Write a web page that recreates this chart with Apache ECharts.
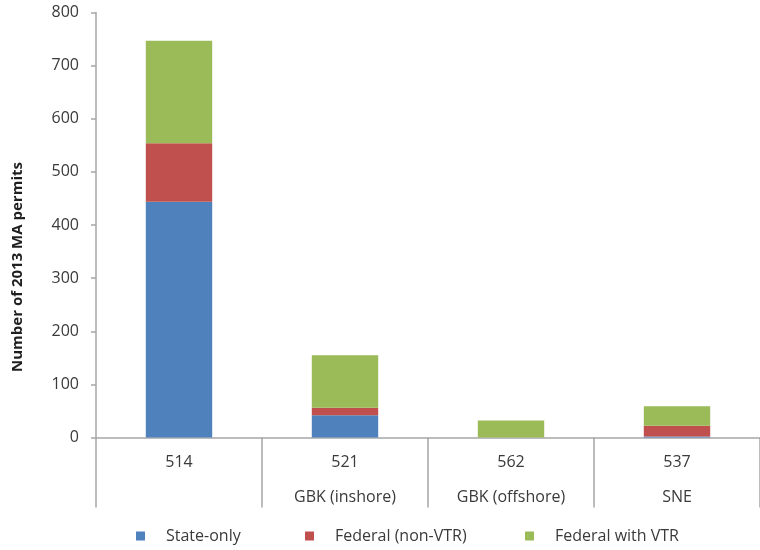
<!DOCTYPE html>
<html>
<head>
<meta charset="utf-8">
<script src="https://cdn.jsdelivr.net/npm/echarts@6/dist/echarts.min.js"></script>
<style>
  html, body { margin: 0; padding: 0; background: #fff; }
  #chart { width: 760px; height: 550px; }
</style>
</head>
<body>
<div id="chart"></div>
<script>
// Statistical areas and their region names
const categories = ['514', '521\nGBK (inshore)', '562\nGBK (offshore)', '537\nSNE'];

// Number of 2013 MA permits per permit type
const stateOnly = [444, 42, 0, 2];
const federalNonVtr = [110, 14, 0, 20];
const federalWithVtr = [193, 99, 32, 37];

const seriesNames = ['State-only', 'Federal (non-VTR)', 'Federal with VTR'];
const yTicks = { min: 0, max: 800, interval: 100 };

const colors = ['#4f81bd', '#c0504d', '#9bbb59'];
const fontFamily = '"Open Sans", Lato, sans-serif';
const textColor = '#3a3a3a';
const axisColor = '#a6a6a6';

const chart = echarts.init(document.getElementById('chart'));

function legendFor(name, left) {
  return {
    data: [name],
    left: left,
    top: 528,
    icon: 'rect',
    itemWidth: 9,
    itemHeight: 9,
    padding: 0,
    textStyle: {
      fontFamily: fontFamily,
      fontSize: 16,
      color: textColor,
      padding: [0, 0, 0, 16]
    }
  };
}

chart.setOption({
  animation: false,
  color: colors,
  legend: [
    legendFor(seriesNames[0], 136),
    legendFor(seriesNames[1], 305),
    legendFor(seriesNames[2], 525)
  ],
  grid: {
    left: 96,
    right: -7,
    top: 12.5,
    bottom: 112.5,
    containLabel: false
  },
  xAxis: {
    type: 'category',
    data: categories,
    axisLine: { lineStyle: { color: axisColor, width: 1.5 } },
    axisTick: { show: true, length: 70, lineStyle: { color: axisColor, width: 1.5 } },
    axisLabel: {
      fontFamily: fontFamily,
      fontSize: 16,
      color: textColor,
      lineHeight: 35,
      margin: 7
    }
  },
  yAxis: {
    type: 'value',
    min: yTicks.min,
    max: yTicks.max,
    interval: yTicks.interval,
    name: 'Number of 2013 MA permits',
    nameLocation: 'middle',
    nameGap: 71,
    nameRotate: 90,
    nameTextStyle: {
      fontFamily: fontFamily,
      fontSize: 15,
      fontWeight: 'bold',
      color: '#1f1f1f',
      padding: [0, 84, 0, 0]
    },
    splitLine: { show: false },
    axisLine: { show: true, lineStyle: { color: axisColor, width: 1.5 } },
    axisTick: { show: true, length: 5, lineStyle: { color: axisColor, width: 1.5 } },
    axisLabel: {
      fontFamily: fontFamily,
      fontSize: 16,
      color: textColor,
      margin: 17
    }
  },
  series: [
    { name: seriesNames[0], type: 'bar', stack: 'permits', barWidth: '40%', data: stateOnly },
    { name: seriesNames[1], type: 'bar', stack: 'permits', barWidth: '40%', data: federalNonVtr },
    { name: seriesNames[2], type: 'bar', stack: 'permits', barWidth: '40%', data: federalWithVtr }
  ]
});
</script>
</body>
</html>
